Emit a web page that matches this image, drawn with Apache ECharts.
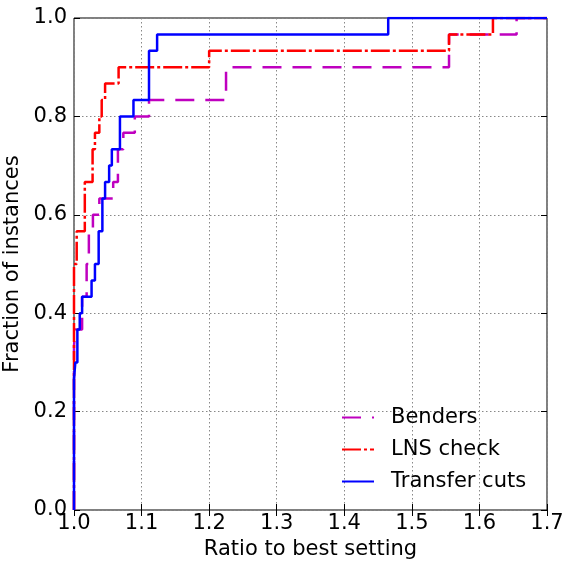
<!DOCTYPE html>
<html>
<head>
<meta charset="utf-8">
<script src="https://cdn.jsdelivr.net/npm/echarts@6/dist/echarts.min.js"></script>
<style>
html,body{margin:0;padding:0;background:#fff;}
#chart{width:567px;height:562px;}
</style>
</head>
<body>
<div id="chart"></div>
<script>
// Benders (magenta dashed)
var bendersX = [1.0, 1.0, 1.002, 1.012, 1.0187, 1.022, 1.028, 1.0375, 1.058, 1.065, 1.073, 1.09, 1.111, 1.225, 1.555, 1.655, 1.7];
var bendersY = [0, 0.3333, 0.3667, 0.4333, 0.5, 0.5667, 0.6, 0.6333, 0.6667, 0.7333, 0.7667, 0.8, 0.8333, 0.9, 0.9667, 1.0, 1.0];
// LNS check (red dash-dot)
var lnsX = [1.0, 1.0, 1.004, 1.016, 1.0275, 1.031, 1.0375, 1.041, 1.046, 1.066, 1.2, 1.555, 1.62, 1.7];
var lnsY = [0, 0.5, 0.5667, 0.6667, 0.7333, 0.7667, 0.8, 0.8333, 0.8667, 0.9, 0.9333, 0.9667, 1.0, 1.0];
// Transfer cuts (blue solid)
var transferX = [1.0, 1.0, 1.002, 1.005, 1.0085, 1.012, 1.026, 1.031, 1.0365, 1.042, 1.046, 1.052, 1.056, 1.068, 1.088, 1.111, 1.123, 1.465, 1.7];
var transferY = [0, 0.2667, 0.3, 0.3667, 0.4, 0.4333, 0.4667, 0.5, 0.5667, 0.6333, 0.6667, 0.7, 0.7333, 0.8, 0.8333, 0.9333, 0.9667, 1.0, 1.0];

var seriesNames = ['Benders', 'LNS check', 'Transfer cuts'];

function pairs(xs, ys) {
  var out = [];
  for (var i = 0; i < xs.length; i++) out.push([xs[i], ys[i]]);
  return out;
}

var FONT = 'DejaVu Sans';
var FS = 21;
var LW = 2.5;
var chart = echarts.init(document.getElementById('chart'), null, {renderer: 'canvas'});

var tickCommon = {show: true, inside: true, length: 6, lineStyle: {color: '#000', width: 1}};

chart.setOption({
  animation: false,
  backgroundColor: '#fff',
  grid: {left: 74, right: 20, top: 18, bottom: 52, show: true, borderColor: '#000', borderWidth: 1, backgroundColor: 'transparent', containLabel: false, outerBoundsMode: 'none'},
  legend: {
    orient: 'vertical',
    left: 336,
    top: 402,
    itemWidth: 32,
    itemHeight: 14,
    itemGap: 11,
    data: seriesNames,
    itemStyle: {color: 'transparent', borderColor: 'transparent', borderWidth: 0, opacity: 0},
    textStyle: {fontFamily: FONT, fontSize: FS, color: '#000', padding: [0, 0, 0, 12]}
  },
  xAxis: [{
    type: 'value', min: 1.0, max: 1.7, interval: 0.1,
    name: 'Ratio to best setting', nameLocation: 'middle', nameGap: 29,
    nameTextStyle: {fontFamily: FONT, fontSize: FS, color: '#000'},
    axisLine: {show: false},
    axisTick: tickCommon,
    axisLabel: {fontFamily: FONT, fontSize: FS, color: '#000', margin: 3, hideOverlap: false, formatter: function (v) { return v.toFixed(1); }},
    splitLine: {show: true, lineStyle: {color: '#888', width: 1, type: [1.5, 2.5]}}
  }, {
    type: 'value', min: 1.0, max: 1.7, interval: 0.1, position: 'top',
    axisLine: {show: false}, axisTick: tickCommon, axisLabel: {show: false}, splitLine: {show: false}
  }],
  yAxis: [{
    type: 'value', min: 0, max: 1, interval: 0.2,
    name: 'Fraction of instances', nameLocation: 'middle', nameGap: 45,
    nameTextStyle: {fontFamily: FONT, fontSize: FS, color: '#000'},
    axisLine: {show: false},
    axisTick: tickCommon,
    axisLabel: {fontFamily: FONT, fontSize: FS, color: '#000', margin: 7, hideOverlap: false, formatter: function (v) { return v.toFixed(1); }},
    splitLine: {show: true, lineStyle: {color: '#888', width: 1, type: [1.5, 2.5]}}
  }, {
    type: 'value', min: 0, max: 1, interval: 0.2, position: 'right',
    axisLine: {show: false}, axisTick: tickCommon, axisLabel: {show: false}, splitLine: {show: false}
  }],
  series: [{
    name: seriesNames[0], type: 'line', step: 'end', symbol: 'none', showSymbol: false,
    data: pairs(bendersX, bendersY),
    itemStyle: {color: '#bf00bf'},
    lineStyle: {color: '#bf00bf', width: LW, type: [19, 11], cap: 'butt'},
    z: 2
  }, {
    name: seriesNames[1], type: 'line', step: 'end', symbol: 'none', showSymbol: false,
    data: pairs(lnsX, lnsY),
    itemStyle: {color: '#ff0000'},
    lineStyle: {color: '#ff0000', width: LW, type: [19, 3, 3, 3], cap: 'butt'},
    z: 3
  }, {
    name: seriesNames[2], type: 'line', step: 'end', symbol: 'none', showSymbol: false,
    data: pairs(transferX, transferY),
    itemStyle: {color: '#0000ff'},
    lineStyle: {color: '#0000ff', width: LW, type: 'solid'},
    z: 4
  }]
});
</script>
</body>
</html>
